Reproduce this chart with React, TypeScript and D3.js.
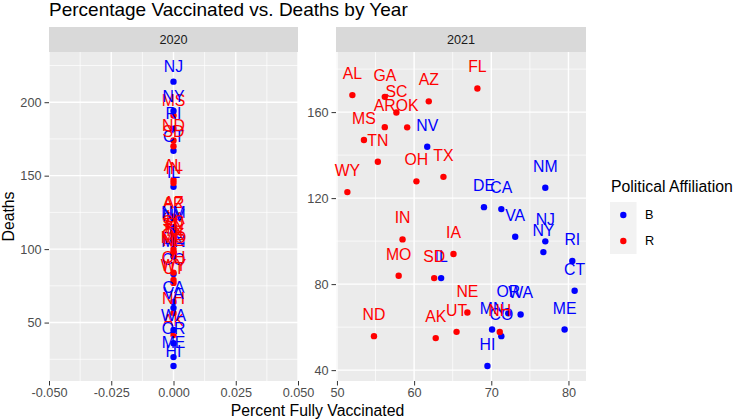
import { useEffect, useRef } from 'react'
import * as d3 from 'd3'

// state, party, 2021 vaccination % and deaths per year (2020 all at 0 %)
const states = ['AK', 'AL', 'AR', 'AZ', 'CA', 'CO', 'CT', 'DE', 'FL', 'GA', 'HI', 'IA', 'IL', 'IN', 'ME', 'MN', 'MO', 'MS', 'ND', 'NE', 'NH', 'NJ', 'NM', 'NV', 'NY', 'OH', 'OK', 'OR', 'RI', 'SC', 'SD', 'TN', 'TX', 'UT', 'VA', 'WA', 'WY']
const affiliation = ['R', 'R', 'R', 'R', 'B', 'B', 'B', 'B', 'R', 'R', 'B', 'R', 'B', 'R', 'B', 'B', 'R', 'R', 'R', 'R', 'R', 'B', 'B', 'B', 'B', 'R', 'R', 'B', 'B', 'R', 'R', 'R', 'R', 'R', 'B', 'B', 'R']
const vaccinated2021 = [62.8, 52.0, 56.2, 61.9, 71.3, 71.3, 80.8, 69.05, 68.2, 56.2, 69.5, 65.1, 63.5, 58.5, 79.5, 70.1, 58.0, 53.5, 54.8, 66.9, 71.1, 77.0, 77.0, 61.7, 76.75, 60.3, 59.1, 72.2, 80.5, 57.7, 62.6, 55.3, 63.8, 65.5, 73.1, 73.8, 51.35]
const deaths2021 = [54.9, 167.9, 153, 165.0, 114.9, 55.8, 76.9, 115.8, 171.0, 167.1, 41.9, 94.0, 82.8, 100.8, 58.9, 58.9, 83.9, 147.0, 55.8, 66.8, 57.7, 99.9, 124.8, 143.9, 94.9, 127.8, 152.9, 66.4, 90.8, 159.8, 82.8, 136.9, 129.9, 57.8, 102.0, 65.9, 122.8]
const deaths2020 = [41.5, 147, 121, 122, 64, 83, 167, 97, 105, 111, 20.4, 112, 142.4, 145, 26.5, 95, 98, 191, 174, 96, 56.5, 214, 115, 113, 194, 84, 100, 36, 182, 109, 170, 107, 103, 77, 60, 45, 79]

const years = ['2020', '2021']
const xTicks2020 = [-0.05, -0.025, 0, 0.025, 0.05]
const xTicks2021 = [50, 60, 70, 80]
const yTicks2020 = [50, 100, 150, 200]
const yTicks2021 = [40, 80, 120, 160]
const legendKeys = ['B', 'R']

const labelNudge = 10
const colors: Record<string, string> = { B: '#0000FF', R: '#FF0000' }
const font = '"Liberation Sans", Arial, Helvetica, sans-serif'

function expand(lo: number, hi: number): [number, number] {
  if (hi - lo === 0) return [lo - 0.05, hi + 0.05]
  const pad = (hi - lo) * 0.05
  return [lo - pad, hi + pad]
}

function minors(ticks: number[], domain: [number, number]) {
  const step = ticks[1] - ticks[0]
  const out: number[] = []
  for (let v = ticks[0] - step / 2; v <= domain[1]; v += step) {
    if (v >= domain[0]) out.push(v)
  }
  return out
}

export default function App() {
  const svgRef = useRef<SVGSVGElement>(null)

  useEffect(() => {
    if (!svgRef.current) return
    const width = 738
    const height = 420
    const svg = d3.select(svgRef.current)
    svg.selectAll('*').remove()
    svg.attr('width', width).attr('height', height).style('font-family', font)

    svg.append('rect').attr('width', width).attr('height', height).attr('fill', '#FFFFFF')

    const panelTop = 52
    const panelBottom = 381
    const panels = [
      { year: years[0], left: 49, right: 298, xs: states.map(() => 0), ys: deaths2020, xTicks: xTicks2020, yTicks: yTicks2020, fmt: (d: number) => d.toFixed(3) },
      { year: years[1], left: 336, right: 586, xs: vaccinated2021, ys: deaths2021, xTicks: xTicks2021, yTicks: yTicks2021, fmt: (d: number) => String(d) },
    ]

    panels.forEach(p => {
      const xDomain = expand(d3.min(p.xs)!, d3.max(p.xs)!)
      const yDomain = expand(d3.min(p.ys)!, d3.max(p.ys)! + labelNudge)
      const x = d3.scaleLinear().domain(xDomain).range([p.left, p.right])
      const y = d3.scaleLinear().domain(yDomain).range([panelBottom, panelTop])

      // strip
      svg.append('rect')
        .attr('x', p.left).attr('y', 27)
        .attr('width', p.right - p.left).attr('height', panelTop - 27)
        .attr('fill', '#D9D9D9')
      svg.append('text')
        .attr('x', (p.left + p.right) / 2).attr('y', 39.5)
        .attr('dy', '0.35em')
        .attr('text-anchor', 'middle')
        .style('font-size', '12.7px')
        .attr('fill', '#1A1A1A')
        .text(p.year)

      // panel background + grid
      svg.append('rect')
        .attr('x', p.left).attr('y', panelTop)
        .attr('width', p.right - p.left).attr('height', panelBottom - panelTop)
        .attr('fill', '#EBEBEB')

      const g = svg.append('g')
      minors(p.xTicks, xDomain).forEach(v => {
        g.append('line').attr('x1', x(v)).attr('x2', x(v)).attr('y1', panelTop).attr('y2', panelBottom)
          .attr('stroke', '#FFFFFF').attr('stroke-width', 0.7)
      })
      minors(p.yTicks, yDomain).forEach(v => {
        g.append('line').attr('y1', y(v)).attr('y2', y(v)).attr('x1', p.left).attr('x2', p.right)
          .attr('stroke', '#FFFFFF').attr('stroke-width', 0.7)
      })
      p.xTicks.forEach(v => {
        g.append('line').attr('x1', x(v)).attr('x2', x(v)).attr('y1', panelTop).attr('y2', panelBottom)
          .attr('stroke', '#FFFFFF').attr('stroke-width', 1.4)
      })
      p.yTicks.forEach(v => {
        g.append('line').attr('y1', y(v)).attr('y2', y(v)).attr('x1', p.left).attr('x2', p.right)
          .attr('stroke', '#FFFFFF').attr('stroke-width', 1.4)
      })

      // axes
      const xAxis = svg.append('g')
        .attr('transform', `translate(0,${panelBottom})`)
        .call(d3.axisBottom(x).tickValues(p.xTicks).tickFormat(d => p.fmt(d as number)).tickSize(4.5).tickPadding(2.5))
      xAxis.select('.domain').remove()
      xAxis.selectAll('line').attr('stroke', '#333333').attr('stroke-width', 1)
      xAxis.selectAll('text').attr('fill', '#4D4D4D').style('font-size', '12.7px').style('font-family', font)

      const yAxis = svg.append('g')
        .attr('transform', `translate(${p.left},0)`)
        .call(d3.axisLeft(y).tickValues(p.yTicks).tickFormat(d => String(d)).tickSize(4.5).tickPadding(3))
      yAxis.select('.domain').remove()
      yAxis.selectAll('line').attr('stroke', '#333333').attr('stroke-width', 1)
      yAxis.selectAll('text').attr('fill', '#4D4D4D').style('font-size', '12.7px').style('font-family', font)

      // points then labels
      states.forEach((s, i) => {
        svg.append('circle')
          .attr('cx', x(p.xs[i])).attr('cy', y(p.ys[i]))
          .attr('r', 3.2)
          .attr('fill', colors[affiliation[i]])
      })
      states.forEach((s, i) => {
        svg.append('text')
          .attr('x', x(p.xs[i])).attr('y', y(p.ys[i] + labelNudge))
          .attr('dy', '0.35em')
          .attr('text-anchor', 'middle')
          .style('font-size', '15.8px')
          .attr('fill', colors[affiliation[i]])
          .text(s)
      })
    })

    // titles
    svg.append('text')
      .attr('x', 49).attr('y', 15.5)
      .style('font-size', '19px')
      .attr('fill', '#000000')
      .text('Percentage Vaccinated vs. Deaths by Year')

    svg.append('text')
      .attr('x', (49 + 586) / 2).attr('y', 415.5)
      .attr('text-anchor', 'middle')
      .style('font-size', '15.8px')
      .attr('fill', '#000000')
      .text('Percent Fully Vaccinated')

    svg.append('text')
      .attr('transform', `translate(14,${(panelTop + panelBottom) / 2}) rotate(-90)`)
      .attr('text-anchor', 'middle')
      .style('font-size', '15.8px')
      .attr('fill', '#000000')
      .text('Deaths')

    // legend
    const legend = svg.append('g').attr('transform', 'translate(610,0)')
    legend.append('text')
      .attr('x', 1).attr('y', 186.7)
      .attr('dy', '0.35em')
      .style('font-size', '15.8px')
      .attr('fill', '#000000')
      .text('Political Affiliation')

    legendKeys.forEach((k, i) => {
      const top = 202 + i * 26
      legend.append('rect')
        .attr('x', 0).attr('y', top)
        .attr('width', 26.5).attr('height', 26)
        .attr('fill', '#F2F2F2')
      legend.append('circle')
        .attr('cx', 13.3).attr('cy', top + 13)
        .attr('r', 3.2)
        .attr('fill', colors[k])
      legend.append('text')
        .attr('x', 35).attr('y', top + 13)
        .attr('dy', '0.35em')
        .style('font-size', '12.7px')
        .attr('fill', '#000000')
        .text(k)
    })
  }, [])

  return (
    <div style={{ position: 'absolute', left: 0, top: 0 }}>
      <svg ref={svgRef} style={{ display: 'block' }}></svg>
    </div>
  )
}
